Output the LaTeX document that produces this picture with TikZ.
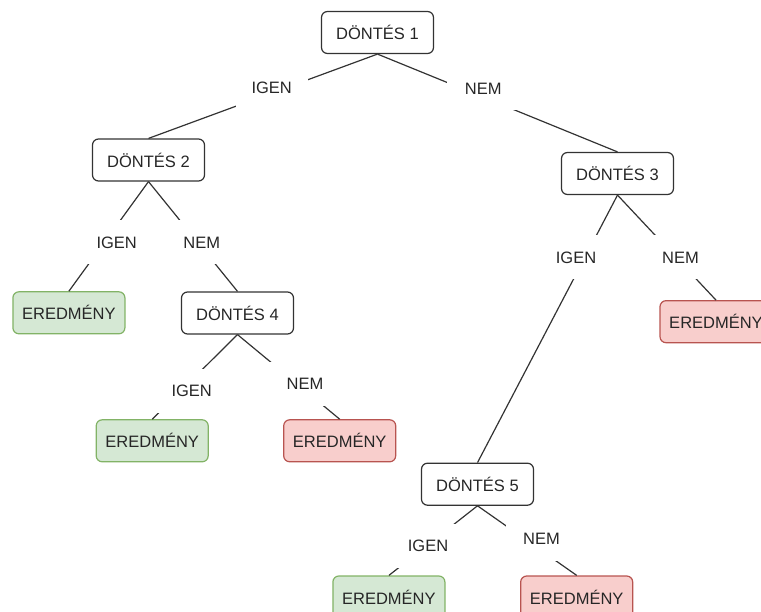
\documentclass[tikz,border=0pt]{standalone}
\usepackage{fontspec}
\setmainfont{Liberation Sans}
\definecolor{okfill}{HTML}{D5E8D4}
\definecolor{okline}{HTML}{82B366}
\definecolor{nofill}{HTML}{F8CECC}
\definecolor{noline}{HTML}{B85450}
\definecolor{ink}{HTML}{333333}
\begin{document}
\begin{tikzpicture}[x=1pt,y=-1pt,
  box/.style={draw=ink, line width=1.2pt, rounded corners=6pt,
    minimum width=112pt, minimum height=42pt, inner sep=0pt,
    fill=white, text=black!85, font=\fontsize{16.5}{18}\selectfont},
  decision/.style={box},
  good/.style={box, fill=okfill, draw=okline},
  bad/.style={box, fill=nofill, draw=noline},
  branch/.style={draw=ink, line width=1.2pt},
  answer/.style={fill=white, minimum width=72pt, minimum height=44pt,
    inner sep=0pt, text=black!85, font=\fontsize{16.5}{18}\selectfont}]
\useasboundingbox (0,0) rectangle (761,612);

% decision boxes and outcomes
\node[decision] (d1) at (377.5,32.5)  {DÖNTÉS 1};
\node[decision] (d2) at (148.5,160)   {DÖNTÉS 2};
\node[decision] (d3) at (617.5,173.5) {DÖNTÉS 3};
\node[decision] (d4) at (237.5,313)   {DÖNTÉS 4};
\node[decision] (d5) at (477.5,484.2) {DÖNTÉS 5};
\node[good] (g1) at (68.9,312.8)  {EREDMÉNY};
\node[good] (g2) at (152.2,440.8) {EREDMÉNY};
\node[bad]  (r2) at (339.7,440.8) {EREDMÉNY};
\node[bad]  (r1) at (716,321.7)   {EREDMÉNY};
\node[good] (g3) at (388.9,597)   {EREDMÉNY};
\node[bad]  (r3) at (576.7,597)   {EREDMÉNY};

% branches
\draw[branch] (d1.south) -- (d2.north);
\draw[branch] (d1.south) -- (d3.north);
\draw[branch] (d2.south) -- (g1.north);
\draw[branch] (d2.south) -- (d4.north);
\draw[branch] (d3.south) -- (d5.north);
\draw[branch] (d3.south) -- (r1.north);
\draw[branch] (d4.south) -- (g2.north);
\draw[branch] (d4.south) -- (r2.north);
\draw[branch] (d5.south) -- (g3.north);
\draw[branch] (d5.south) -- (r3.north);

% branch answers, laid over the lines
\node[answer] (a1) at (271.7,88.3)  {IGEN};
\node[answer] (a2) at (483.3,88.5)  {NEM};
\node[answer] (a3) at (116.7,242.5) {IGEN};
\node[answer] (a4) at (201.7,242.5) {NEM};
\node[answer] (a5) at (576,257.5)   {IGEN};
\node[answer] (a6) at (680.5,257.5) {NEM};
\node[answer] (a7) at (191.7,391.2) {IGEN};
\node[answer] (a8) at (305,384.2)   {NEM};
\node[answer] (a9) at (428,545.5)   {IGEN};
\node[answer] (a10) at (541.5,539.2) {NEM};
\end{tikzpicture}
\end{document}
